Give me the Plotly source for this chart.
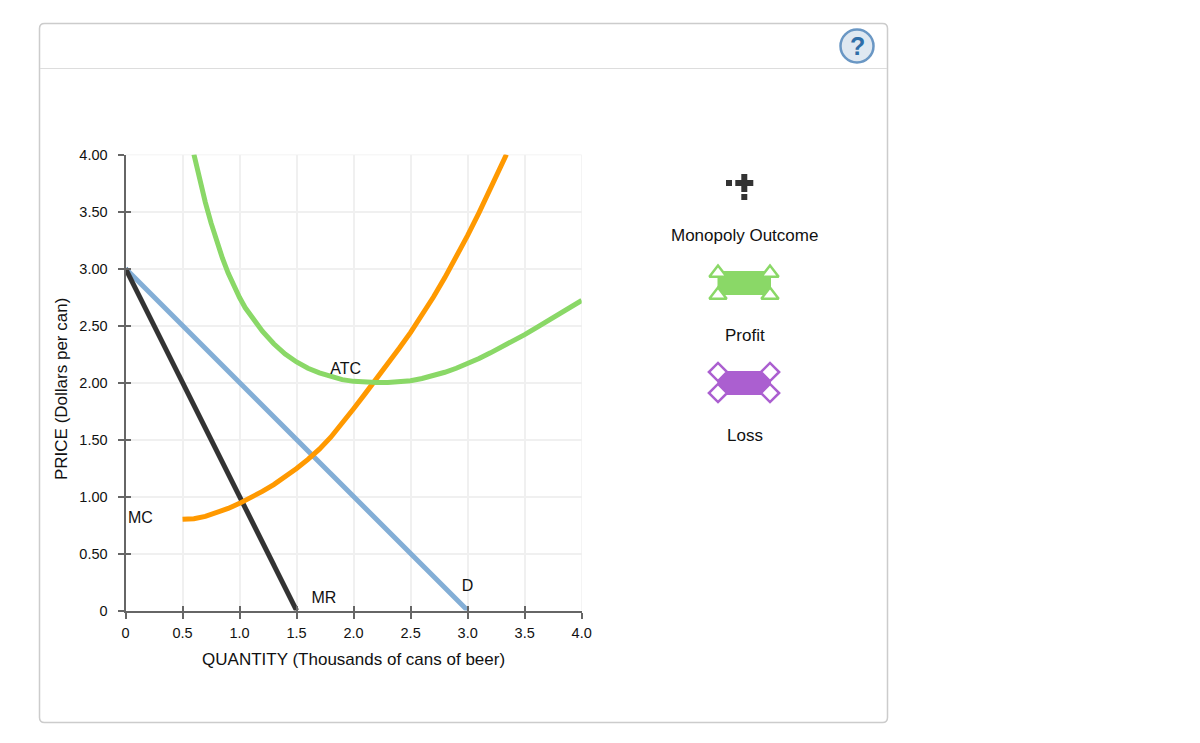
import plotly.graph_objects as go

# ---- chart data ----
mr_q = [0, 1.5]
mr_p = [3.0, 0]
d_q = [0, 3.0]
d_p = [3.0, 0]
mc_q = [0.5, 0.6, 0.7, 0.8, 0.9, 1.0, 1.1, 1.2, 1.3, 1.4, 1.5, 1.6, 1.7, 1.8, 1.9, 2.0, 2.1, 2.2, 2.3, 2.4, 2.5, 2.6, 2.7, 2.8, 2.9, 3.0, 3.1, 3.2, 3.3, 3.34]
mc_p = [0.80, 0.805, 0.825, 0.855, 0.895, 0.94, 0.99, 1.045, 1.105, 1.17, 1.245, 1.325, 1.415, 1.52, 1.64, 1.77, 1.90, 2.03, 2.165, 2.30, 2.44, 2.59, 2.75, 2.92, 3.10, 3.29, 3.49, 3.70, 3.91, 4.0]
atc_q = [0.6, 0.65, 0.7, 0.75, 0.8, 0.85, 0.9, 0.95, 1.0, 1.05, 1.1, 1.15, 1.2, 1.3, 1.4, 1.5, 1.6, 1.7, 1.8, 1.9, 2.0, 2.1, 2.2, 2.3, 2.4, 2.5, 2.6, 2.7, 2.8, 2.9, 3.0, 3.1, 3.2, 3.3, 3.4, 3.5, 3.6, 3.7, 3.8, 3.9, 4.0]
atc_p = [4.0, 3.78, 3.58, 3.40, 3.24, 3.09, 2.96, 2.845, 2.745, 2.655, 2.58, 2.51, 2.45, 2.34, 2.25, 2.18, 2.125, 2.085, 2.05, 2.025, 2.01, 2.0, 2.0, 2.0, 2.005, 2.015, 2.035, 2.06, 2.09, 2.125, 2.165, 2.21, 2.26, 2.31, 2.365, 2.42, 2.48, 2.54, 2.60, 2.66, 2.72]
x_ticks = [0, 0.5, 1, 1.5, 2, 2.5, 3, 3.5, 4]
x_labels = ["0", "0.5", "1.0", "1.5", "2.0", "2.5", "3.0", "3.5", "4.0"]
y_ticks = [0, 0.5, 1, 1.5, 2, 2.5, 3, 3.5, 4]
y_labels = ["0", "0.50", "1.00", "1.50", "2.00", "2.50", "3.00", "3.50", "4.00"]
curve_labels = ["MC", "ATC", "MR", "D"]
curve_label_q = [0.13, 1.93, 1.74, 3.0]
curve_label_p = [0.80, 2.11, 0.105, 0.21]

# ---- styles ----
W, H = 1200, 743
X0, X1, Y0, Y1 = 125.5, 581.7, 610.5, 154.5
FONT = "Liberation Sans, Arial, sans-serif"
GREEN, ORANGE, BLUE, DARK, PURPLE = "#8AD867", "#FF9900", "#83AED6", "#333333", "#AB5FD0"
AXIS, GRID = "#666666", "#F0F0F0"
INK = "#111111"

fig = go.Figure()
for xs, ys, c in [(d_q, d_p, BLUE), (mr_q, mr_p, DARK), (mc_q, mc_p, ORANGE), (atc_q, atc_p, GREEN)]:
    fig.add_trace(go.Scatter(x=xs, y=ys, mode="lines", line=dict(color=c, width=5), hoverinfo="skip"))
fig.add_trace(go.Scatter(x=curve_label_q, y=curve_label_p, mode="text", text=curve_labels,
                         textfont=dict(family=FONT, size=16, color=INK), hoverinfo="skip", cliponaxis=False))
# inner half of the tick marks
fig.add_trace(go.Scatter(x=[None], y=[None], xaxis="x3", yaxis="y3", showlegend=False))

# ---- palette icons on a pixel-mapped overlay ----
px = dict(xaxis="x2", yaxis="y2", hoverinfo="skip")
fig.add_trace(go.Scatter(x=[729, 744.3], y=[183, 197], mode="markers",
                         marker=dict(symbol="square", size=6, color=DARK), **px))
fig.add_trace(go.Scatter(x=[744.3], y=[183], mode="markers",
                         marker=dict(symbol="cross", size=15, color=DARK), **px))
fig.add_trace(go.Scatter(x=[718, 770, 718, 770], y=[273, 273, 295, 295], mode="markers",
                         marker=dict(symbol="triangle-up", size=15, color="white", line=dict(color=GREEN, width=2.5)), **px))
fig.add_trace(go.Scatter(x=[718, 770, 718, 770], y=[372, 372, 393, 393], mode="markers",
                         marker=dict(symbol="diamond", size=14, color="white", line=dict(color=PURPLE, width=2.5)), **px))

def ax_common(vals, text, standoff):
    return dict(range=[0, 4], tickmode="array", tickvals=vals, ticktext=text, showgrid=True, gridcolor=GRID,
                gridwidth=1.5, zeroline=False, showline=True, linecolor=AXIS, linewidth=2, ticks="outside",
                ticklen=6, tickwidth=1.5, tickcolor=AXIS, automargin=False, ticklabelstandoff=standoff,
                tickfont=dict(family=FONT, size=14.5, color=INK))

shapes = [
    dict(type="path", xref="x2", yref="y2", layer="below", line=dict(color="#CCCCCC", width=1.5),
         path="M44.5,23.5 H882.5 Q887.5,23.5 887.5,28.5 V717.5 Q887.5,722.5 882.5,722.5 H44.5 Q39.5,722.5 39.5,717.5 V28.5 Q39.5,23.5 44.5,23.5 Z"),
    dict(type="line", xref="x2", yref="y2", layer="below", x0=40, x1=887, y0=68.5, y1=68.5, line=dict(color="#DDDDDD", width=1)),
    dict(type="circle", xref="x2", yref="y2", x0=840.5, x1=873.5, y0=29.5, y1=62.5, line=dict(color="#6A97C4", width=2.5), fillcolor="#DFE8F1"),
    dict(type="rect", xref="x2", yref="y2", layer="below", x0=717.5, x1=771, y0=271, y1=295, line=dict(width=0), fillcolor=GREEN),
    dict(type="rect", xref="x2", yref="y2", layer="below", x0=717.5, x1=771, y0=371, y1=395, line=dict(width=0), fillcolor=PURPLE),
    dict(type="line", xref="x", yref="y", layer="below", x0=0, x1=4, y0=4, y1=4, line=dict(color=GRID, width=1.5)),
    dict(type="line", xref="x", yref="y", layer="below", x0=4, x1=4, y0=0, y1=4, line=dict(color=GRID, width=1.5)),
]
def note(x, y, t, size=17, color=INK, **kw):
    return dict(xref="x2", yref="y2", x=x, y=y, text=t, showarrow=False, font=dict(family=FONT, size=size, color=color), **kw)
annotations = [
    note(744.5, 235, "Monopoly Outcome"),
    note(744.5, 335, "Profit"),
    note(744.5, 435, "Loss"),
    note(857, 46, "<b>?</b>", 25, "#2F6EA8"),
    note(61, 389, "PRICE (Dollars per can)", textangle=-90),
]

fig.update_layout(
    width=W, height=H, margin=dict(l=0, r=0, t=0, b=0, autoexpand=False), showlegend=False,
    paper_bgcolor="white", plot_bgcolor="rgba(0,0,0,0)",
    xaxis=dict(domain=[X0 / W, X1 / W], anchor="y",
               title=dict(text="QUANTITY (Thousands of cans of beer)", font=dict(family=FONT, size=17, color=INK), standoff=13),
               **ax_common(x_ticks, x_labels, 2)),
    yaxis=dict(domain=[1 - Y0 / H, 1 - Y1 / H], anchor="x", **ax_common(y_ticks, y_labels, 7)),
    xaxis2=dict(domain=[0, 1], range=[0, W], visible=False, anchor="y2", fixedrange=True),
    yaxis2=dict(domain=[0, 1], range=[H, 0], visible=False, anchor="x2", fixedrange=True),
    xaxis3=dict(domain=[X0 / W, X1 / W], anchor="y3", range=[0, 4], tickmode="array", tickvals=x_ticks, showticklabels=False,
                ticks="inside", ticklen=5, tickwidth=1.5, tickcolor=AXIS, showgrid=False, zeroline=False),
    yaxis3=dict(domain=[1 - Y0 / H, 1 - Y1 / H], anchor="x3", range=[0, 4], tickmode="array", tickvals=y_ticks, showticklabels=False,
                ticks="inside", ticklen=5, tickwidth=1.5, tickcolor=AXIS, showgrid=False, zeroline=False),
    shapes=shapes, annotations=annotations,
)

fig.write_html("out.html", config=dict(displayModeBar=False),
               post_script="document.body.style.margin='0';")
